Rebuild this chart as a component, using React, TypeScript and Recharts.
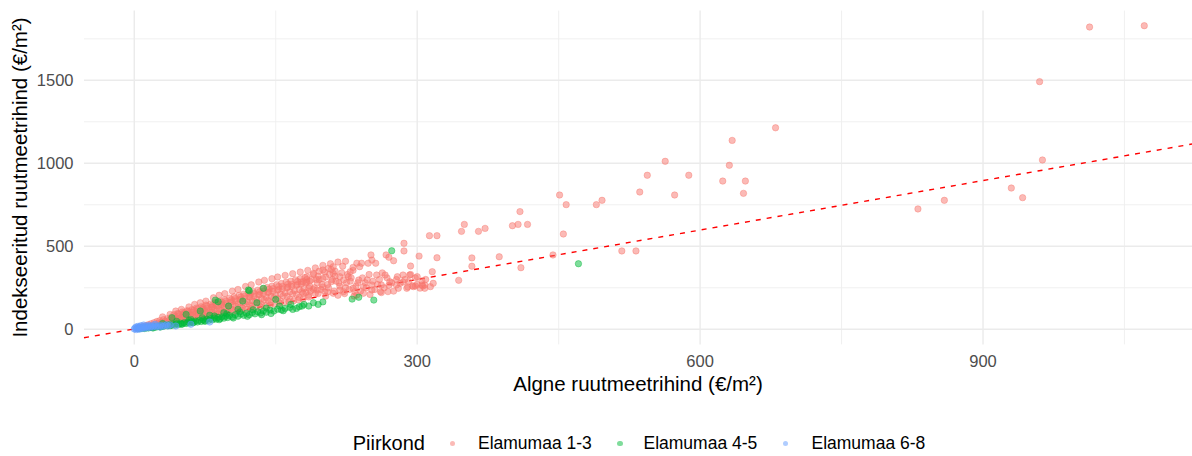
import React from 'react';
import {ReferenceLine, Scatter, ScatterChart, XAxis, YAxis} from 'recharts';

const FONT = '"Liberation Sans", Arial, sans-serif';

// Elamumaa 1-3: dense wedge near the origin, then the sparser tail and outliers
const RED_POINTS: [number, number][] = [
  [3, 5], [5, 12], [7, 9], [9, 17], [11, 13], [12, 22], [14, 18], [15, 28], [17, 16], [18, 34],
  [20, 25], [21, 40], [23, 21], [24, 47], [25, 33], [27, 52], [28, 26], [29, 42], [31, 58], [32, 30],
  [33, 49], [35, 64], [36, 37], [37, 55], [39, 72], [40, 43], [41, 61], [42, 88], [44, 48], [45, 68],
  [46, 95], [47, 79], [49, 53], [50, 74], [51, 104], [52, 88], [54, 57], [55, 81], [56, 112], [57, 96],
  [59, 63], [60, 88], [61, 118], [62, 103], [64, 66], [65, 95], [66, 128], [67, 110], [69, 72], [70, 101],
  [71, 136], [72, 119], [74, 77], [75, 108], [76, 146], [77, 126], [79, 81], [80, 114], [81, 152], [82, 134],
  [84, 86], [85, 120], [86, 162], [87, 141], [89, 92], [90, 127], [91, 170], [92, 149], [94, 96], [95, 134],
  [96, 178], [97, 156], [99, 101], [100, 140], [101, 188], [102, 163], [104, 106], [105, 146], [106, 196], [107, 171],
  [109, 110], [110, 153], [111, 204], [112, 178], [114, 116], [115, 160], [116, 212], [117, 186], [119, 121], [120, 166],
  [121, 220], [122, 193], [124, 126], [125, 172], [126, 228], [127, 200], [129, 131], [130, 179], [131, 236], [132, 207],
  [134, 136], [135, 186], [136, 244], [137, 214], [139, 141], [140, 192], [141, 252], [142, 221], [144, 146], [145, 199],
  [146, 260], [147, 229], [149, 152], [150, 206], [151, 268], [152, 236], [154, 157], [155, 212], [156, 276], [157, 243],
  [159, 162], [160, 219], [161, 284], [162, 250], [164, 167], [165, 226], [166, 290], [167, 258], [169, 172], [170, 233],
  [171, 298], [172, 265], [174, 178], [175, 240], [176, 305], [177, 272], [179, 184], [180, 246], [181, 312], [182, 280],
  [48, 64], [58, 77], [68, 90], [78, 103], [88, 115], [98, 128], [108, 140], [118, 152], [128, 165], [138, 177],
  [148, 190], [158, 202], [168, 214], [178, 226], [53, 100], [63, 115], [73, 130], [83, 147], [93, 163], [103, 178],
  [113, 195], [123, 210], [133, 226], [143, 242], [153, 258], [163, 272], [173, 288], [183, 300],
  [30, 75], [38, 90], [44, 110], [50, 120], [58, 135], [64, 150], [70, 160], [76, 170], [84, 190], [90, 205],
  [96, 215], [104, 230], [110, 240], [118, 258], [124, 268], [132, 285], [138, 295], [146, 305], [152, 315], [160, 325],
  [168, 335], [176, 345], [184, 355], [192, 370], [200, 385], [208, 395], [216, 405], [224, 410],
  [43, 75], [53, 90], [63, 105], [73, 120], [83, 135], [93, 150], [103, 165], [113, 180], [123, 195], [133, 210],
  [143, 225], [153, 240], [163, 255], [173, 270], [183, 285], [193, 300], [203, 315], [213, 320],
  [45, 52], [55, 62], [65, 73], [75, 84], [85, 95], [95, 106], [105, 117], [115, 128], [125, 139], [135, 150],
  [145, 160], [155, 171], [165, 182], [175, 192], [185, 205], [195, 215], [205, 225],
  [35, 45], [42, 55], [47, 92], [52, 68], [57, 108], [62, 80], [67, 122], [72, 92], [77, 140], [82, 100],
  [87, 155], [92, 112], [97, 170], [102, 125], [107, 185], [112, 135], [117, 200], [122, 148], [127, 215], [132, 160],
  [137, 230], [142, 172], [147, 245], [152, 185], [157, 258], [162, 198], [167, 270], [172, 210], [177, 285], [182, 222],
  [186, 290], [190, 240], [196, 300], [200, 255],
  [187, 230], [191, 250], [195, 320], [199, 270], [202, 345], [206, 250], [210, 300], [213, 350], [217, 280], [221, 380],
  [224, 250], [226, 330], [229, 290], [232, 355], [234, 225], [237, 280], [242, 310], [246, 250], [249, 330], [253, 290],
  [258, 270], [263, 340], [268, 310], [273, 280],
  [185, 195], [186, 260], [188, 300], [190, 330], [192, 215], [194, 280], [196, 350], [198, 240], [200, 305], [203, 200],
  [205, 270], [207, 330], [209, 360], [212, 230], [214, 290], [216, 205], [218, 260], [220, 340], [223, 215], [225, 280],
  [228, 240], [230, 310], [233, 200], [235, 260], [240, 230], [245, 280], [250, 210], [255, 240], [260, 300], [265, 250],
  [270, 265], [275, 230], [278, 300],
  [313, 564], [321, 564], [286, 518], [286, 472], [302, 441], [321, 431], [293, 381], [316, 347], [267, 448], [270, 434],
  [275, 413], [251, 448], [252, 417], [256, 398], [248, 398], [236, 398], [232, 373], [229, 347], [227, 317], [239, 377],
  [241, 398], [218, 317], [222, 297], [209, 287], [211, 337], [206, 367], [211, 377], [200, 357], [190, 337], [183, 317],
  [179, 287], [257, 327], [266, 327], [279, 317], [285, 327], [292, 327], [300, 317], [291, 287], [282, 277], [271, 287],
  [262, 267], [252, 267], [243, 257], [238, 297], [247, 297], [232, 247], [222, 227], [211, 217], [202, 227], [194, 237],
  [185, 247], [179, 217], [280, 247], [289, 247], [298, 261], [308, 267], [269, 227], [262, 221], [252, 237], [243, 217],
  [287, 300], [293, 330], [298, 310], [305, 292], [309, 300], [290, 255], [295, 262], [285, 285], [300, 270], [303, 248],
  [305, 267], [308, 247], [314, 257], [317, 277], [218, 237], [236, 207], [261, 227], [278, 267], [296, 257], [306, 261],
  [680, 1214], [634, 1138], [563, 1012], [631, 988], [544, 928], [588, 928], [624, 893], [648, 893], [536, 827], [573, 809],
  [646, 819], [451, 809], [458, 751], [490, 751], [496, 777], [409, 709], [401, 624], [407, 632], [417, 632], [350, 632],
  [347, 590], [365, 590], [372, 608], [455, 574], [358, 430], [387, 437], [358, 380], [410, 371], [444, 448], [344, 295],
  [517, 472], [532, 472], [1013, 1821], [1071, 1829], [960, 1492], [963, 1020], [930, 851], [942, 793], [859, 777], [831, 725],
];

// Elamumaa 4-5: mostly the lower band of the wedge
const GREEN_POINTS: [number, number][] = [
  [6, 4], [9, 7], [11, 5], [13, 10], [15, 8], [17, 13], [19, 10], [21, 16], [23, 13], [25, 19],
  [27, 15], [29, 22], [31, 18], [33, 25], [35, 21], [37, 28], [39, 23], [41, 31], [43, 26], [45, 34],
  [47, 29], [49, 37], [51, 32], [53, 40], [55, 35], [57, 43], [59, 38], [61, 47], [63, 41], [65, 50],
  [67, 44], [69, 54], [71, 47], [73, 57], [75, 51], [77, 61], [79, 54], [81, 64], [83, 57], [85, 68],
  [87, 61], [89, 72], [91, 64], [93, 75], [95, 67], [97, 79], [99, 71], [101, 83], [104, 75], [107, 88],
  [110, 79], [113, 92], [116, 84], [119, 97], [122, 88], [125, 101], [128, 93], [131, 106], [134, 98], [137, 111],
  [140, 103], [144, 116], [148, 110], [152, 121], [156, 117], [160, 126], [165, 132], [172, 126], [175, 136], [168, 120],
  [30, 35], [45, 48], [58, 55], [72, 70], [85, 80], [98, 92], [112, 105], [126, 118], [140, 128], [154, 140],
  [166, 150], [180, 150], [190, 160], [200, 165], [185, 140], [145, 95], [135, 88], [120, 78], [105, 68], [90, 58],
  [75, 48], [62, 40], [50, 30], [38, 22], [28, 14], [20, 8], [158, 112], [178, 140], [195, 150],
  [40, 70], [55, 90], [70, 110], [86, 176], [89, 166], [100, 140], [115, 170], [121, 237], [122, 232], [137, 247],
  [130, 160], [150, 180], [60, 60], [80, 85], [95, 100], [110, 120],
  [231, 182], [238, 193], [254, 176], [273, 473], [471, 395],
];

// Elamumaa 6-8: the tip of the wedge and its lower edge
const BLUE_POINTS: [number, number][] = [
  [0, 2], [1, 8], [2, -2], [2, 14], [3, 5], [4, 10], [4, 18], [5, 0], [6, 7], [6, 14],
  [7, 22], [8, 4], [9, 11], [10, 17], [10, 26], [11, 6], [12, 13], [13, 20], [14, 9], [15, 16],
  [16, 24], [17, 11], [18, 19], [20, 14], [21, 22], [22, 30], [23, 16], [25, 20], [27, 14], [28, 24],
  [30, 18], [32, 22], [34, 27], [36, 20], [38, 26], [44, 20], [60, 30], [80, 44],
];

// dashed fit line, end points in data units
const FIT_X = [-53.3, 1121.6];
const FIT_Y = [-51, 1116];

const X_TICKS = [0, 300, 600, 900];
const X_MINOR = [150, 450, 750, 1050];
const Y_TICKS = [0, 500, 1000, 1500];
const Y_MINOR = [250, 750, 1250, 1750];

const SERIES = [
  {name: 'Elamumaa 1-3', color: '#F8766D', points: RED_POINTS},
  {name: 'Elamumaa 4-5', color: '#00BA38', points: GREEN_POINTS},
  {name: 'Elamumaa 6-8', color: '#619CFF', points: BLUE_POINTS},
];

const LEGEND_POS = [
  {dot: 452.7, text: 478},
  {dot: 620, text: 643.5},
  {dot: 785.5, text: 811.5},
];

const XTick = ({x, payload}: any) => (
  <text x={x} y={367} textAnchor="middle" fontSize={16.5} fill="#4D4D4D" fontFamily={FONT}>
    {payload.value}
  </text>
);

const YTick = ({y, payload}: any) => (
  <text x={73.5} y={y + 6} textAnchor="end" fontSize={16.5} fill="#4D4D4D" fontFamily={FONT}>
    {payload.value}
  </text>
);

const XTitle = () => (
  <text x={638} y={391} textAnchor="middle" fontSize={20.5} fill="#000" fontFamily={FONT}>
    Algne ruutmeetrihind (€/m²)
  </text>
);

const YTitle = () => (
  <text x={-177.5} y={27} transform="rotate(-90)" textAnchor="middle" fontSize={20.5} fill="#000" fontFamily={FONT}>
    Indekseeritud ruutmeetrihind (€/m²)
  </text>
);

// filled circle plus a same-colour stroke, both translucent, like ggplot's shape 19
const dot = (color: string) => (props: any) => (
  <circle
    cx={props.cx}
    cy={props.cy}
    r={3.2}
    fill={color}
    fillOpacity={0.5}
    stroke={color}
    strokeOpacity={0.45}
    strokeWidth={0.9}
  />
);

export default function App() {
  return (
    <div style={{position: 'absolute', left: 0, top: 0, width: 1192, height: 456, background: '#fff', fontFamily: FONT}}>
      <ScatterChart width={1192} height={456} margin={{top: 10.6, right: 0, bottom: 51.6, left: 0}}>
        <XAxis
          type="number"
          dataKey="x"
          domain={[-53.3, 1121.6]}
          allowDataOverflow
          ticks={X_TICKS}
          axisLine={false}
          tickLine={false}
          height={60}
          tick={<XTick />}
          label={<XTitle />}
        />
        <YAxis
          type="number"
          dataKey="y"
          domain={[-91, 1920]}
          allowDataOverflow
          ticks={Y_TICKS}
          axisLine={false}
          tickLine={false}
          width={84}
          tick={<YTick />}
          label={<YTitle />}
        />
        {X_MINOR.map(v => <ReferenceLine key={`xm${v}`} x={v} stroke="#EEEEEE" strokeWidth={0.9} />)}
        {Y_MINOR.map(v => <ReferenceLine key={`ym${v}`} y={v} stroke="#EEEEEE" strokeWidth={0.9} />)}
        {X_TICKS.map(v => <ReferenceLine key={`x${v}`} x={v} stroke="#EBEBEB" strokeWidth={1.4} />)}
        {Y_TICKS.map(v => <ReferenceLine key={`y${v}`} y={v} stroke="#EBEBEB" strokeWidth={1.4} />)}
        {SERIES.map(s => (
          <Scatter
            key={s.name}
            name={s.name}
            data={s.points.map(([x, y]) => ({x, y}))}
            fill={s.color}
            shape={dot(s.color)}
            isAnimationActive={false}
          />
        ))}
        <ReferenceLine
          segment={[{x: FIT_X[0], y: FIT_Y[0]}, {x: FIT_X[1], y: FIT_Y[1]}]}
          stroke="#FF0000"
          strokeWidth={1.4}
          strokeDasharray="5 6"
          ifOverflow="visible"
        />
      </ScatterChart>
      <div style={{position: 'absolute', left: 0, top: 0, width: 1192, height: 456, pointerEvents: 'none'}}>
        <span style={{position: 'absolute', left: 352.7, top: 433.1, fontSize: 20, lineHeight: '20px', color: '#000', whiteSpace: 'nowrap'}}>
          Piirkond
        </span>
        {SERIES.map((s, i) => (
          <React.Fragment key={s.name}>
            <span
              style={{
                position: 'absolute',
                left: LEGEND_POS[i].dot - 2.6,
                top: 443.5 - 2.6,
                width: 5.2,
                height: 5.2,
                borderRadius: '50%',
                background: s.color,
                opacity: 0.5,
              }}
            />
            <span style={{position: 'absolute', left: LEGEND_POS[i].text, top: 435.2, fontSize: 17.5, lineHeight: '17.5px', color: '#000', whiteSpace: 'nowrap'}}>
              {s.name}
            </span>
          </React.Fragment>
        ))}
      </div>
    </div>
  );
}
